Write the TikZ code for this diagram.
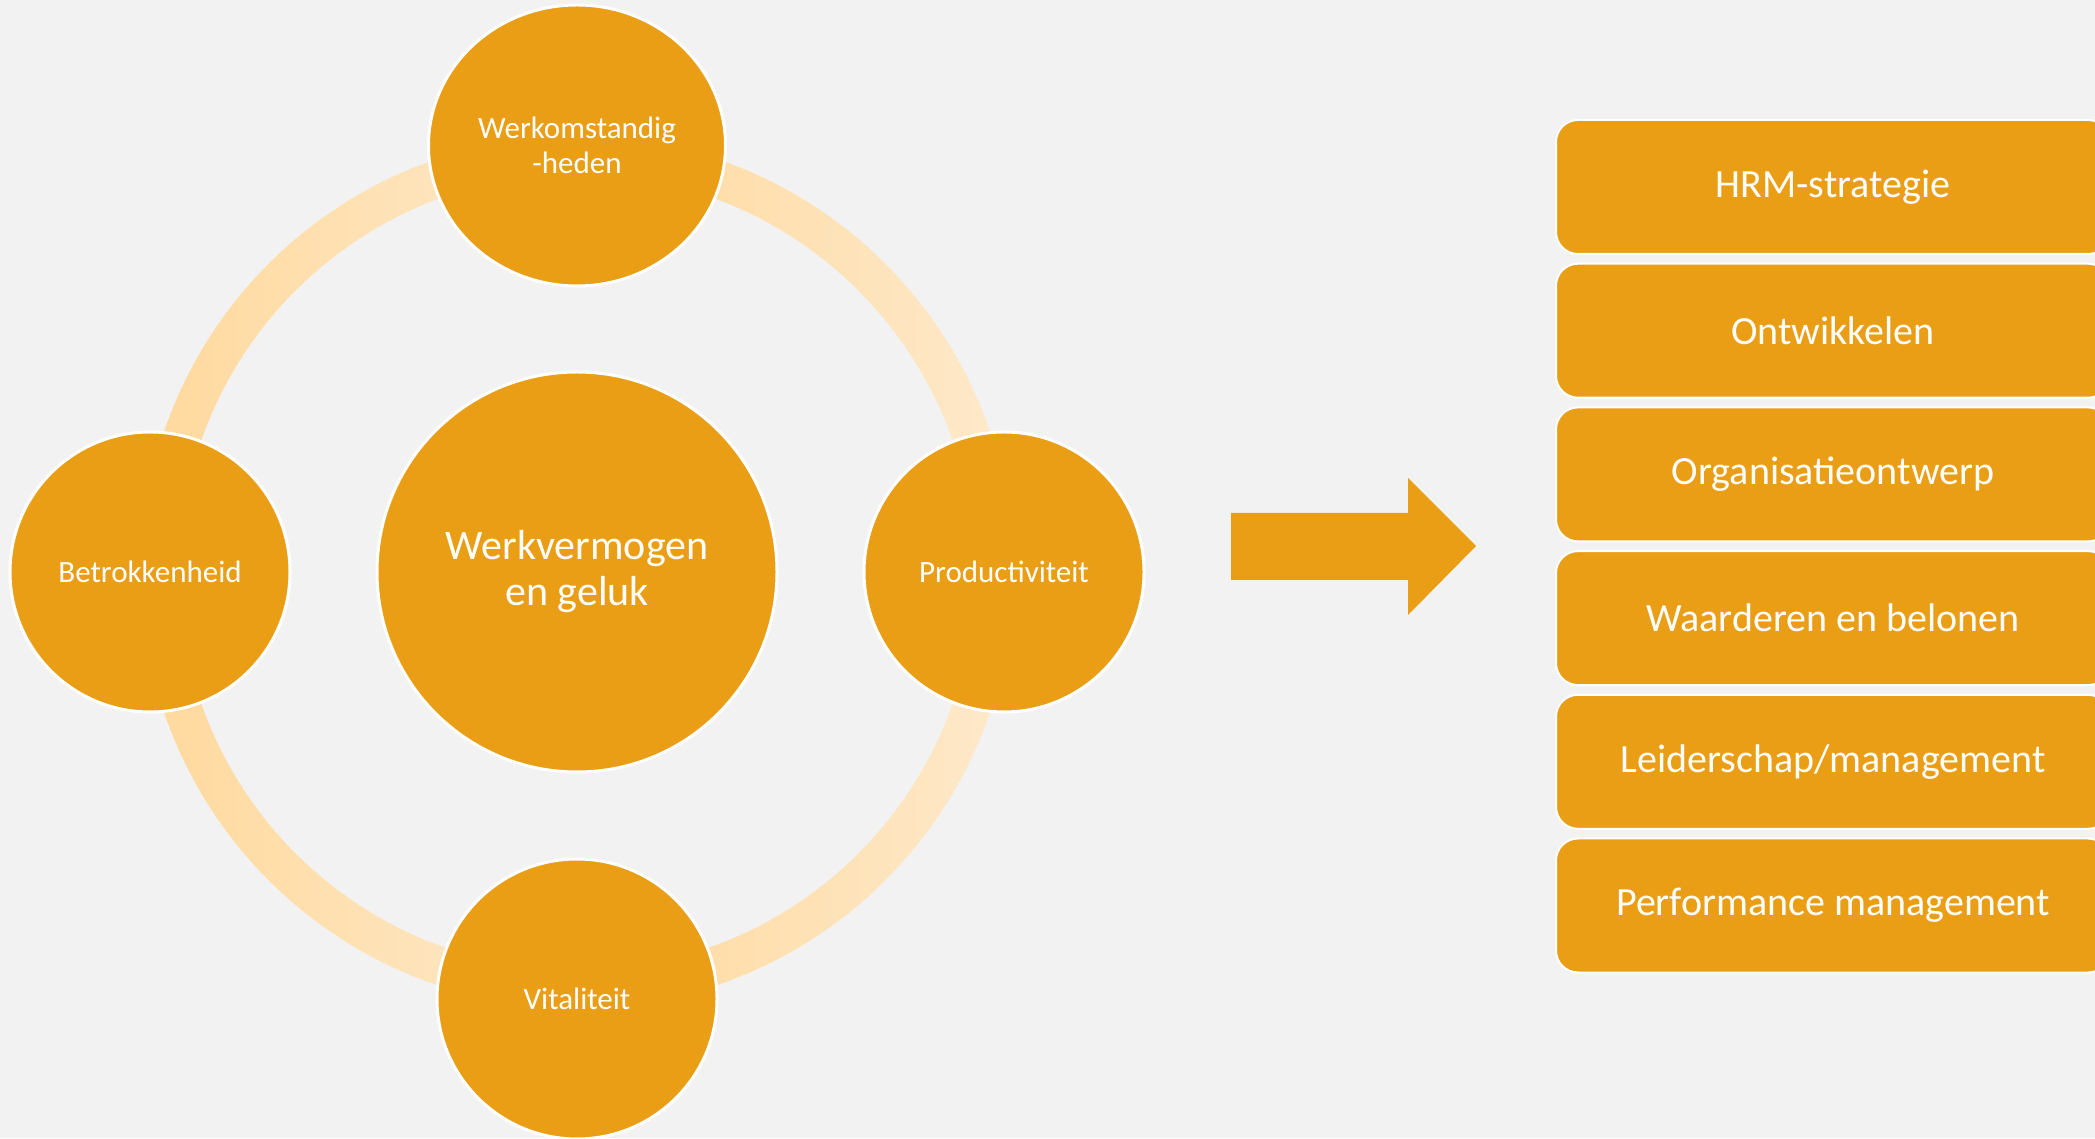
\documentclass[tikz,border=0pt]{standalone}
\usepackage{fontspec}
\setmainfont{Carlito}
\usetikzlibrary{positioning,calc,shapes.geometric}
\definecolor{oranje}{HTML}{E99E16}
\definecolor{achter}{HTML}{F2F2F2}
\definecolor{ringdonker}{HTML}{FFD99C}
\definecolor{ringlicht}{HTML}{FEE9CB}

\begin{document}
\begin{tikzpicture}[x=1pt, y=1pt, node distance=87pt,
	rondje/.style={circle, fill=oranje, draw=white, line width=3pt, outer sep=0pt, inner sep=0pt, minimum size=280pt, text=white, align=center, font=\fontsize{31}{35}\selectfont},
	ovaal/.style={rondje, ellipse, minimum width=297pt, minimum height=281pt},
	kernrond/.style={rondje, minimum size=400pt, font=\fontsize{42}{46}\selectfont},
	blok/.style={rectangle, rounded corners=22pt, fill=oranje, draw=white, line width=2pt, minimum width=554pt, minimum height=134pt, text=white, font=\fontsize{40}{44}\selectfont},
	ring/.style={left color=ringdonker, right color=ringlicht}]

	\fill[achter] (0,0) rectangle (2095,1138);
	\useasboundingbox (0,0) rectangle (2095,1138);

	\coordinate (m) at (577,566);
	% ring
	\foreach \a in {0,90,180,270}
		\shade[ring] ($(m)+(\a:436)$) arc[start angle=\a, end angle=\a+90, radius=436]
			-- ($(m)+({\a+90}:398)$) arc[start angle=\a+90, end angle=\a, radius=398] -- cycle;

	\node[kernrond] (kern) at (m)                {Werkvermogen\\en geluk};
	\node[ovaal] (werk)    [above=86pt of kern]  {Werkomstandig\\-heden};
	\node[rondje] (prod)   [right=of kern]       {Productiviteit};
	\node[rondje] (vital)  [below=of kern]       {Vitaliteit};
	\node[rondje] (betrok) [left=of kern]        {Betrokkenheid};

	% pijl
	\fill[oranje] (1231,625) -- (1408,625) -- (1408,660) -- (1476,592)
		-- (1408,523) -- (1408,558) -- (1231,558) -- cycle;

	\foreach \t [count=\i] in {HRM-strategie, Ontwikkelen, Organisatieontwerp,
		Waarderen en belonen, Leiderschap/management, Performance management}
		\node[blok] (blok\i) at (1833, {951-143.7*(\i-1)}) {\t};
\end{tikzpicture}
\end{document}
